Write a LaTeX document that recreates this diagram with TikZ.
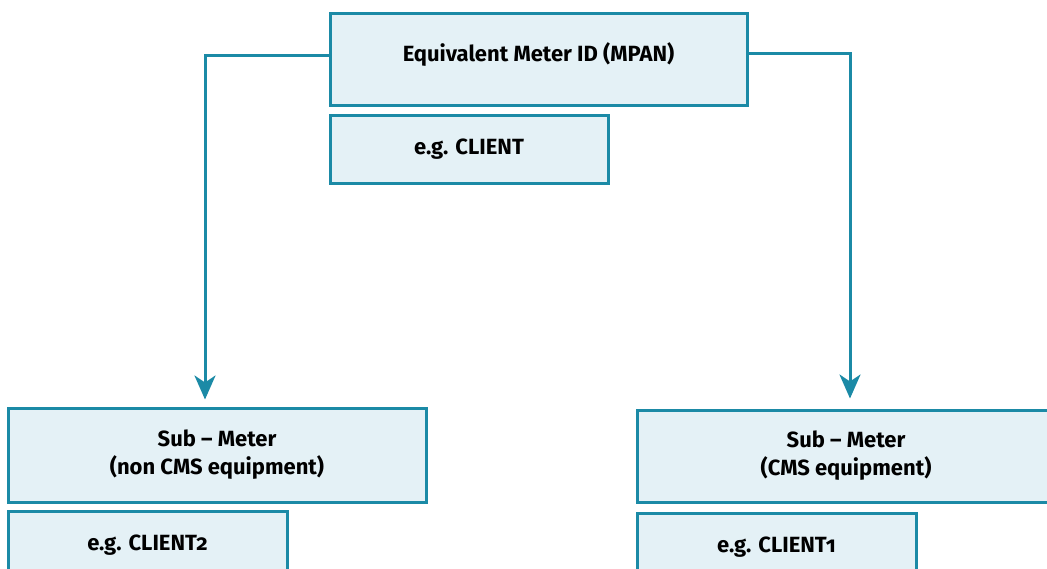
\documentclass[tikz,border=0pt]{standalone}
\usepackage{fontspec}
\setmainfont{Fira Sans}[Numbers=OldStyle]
\usepackage{xcolor}
\definecolor{colorBorder}{HTML}{1B8AA6}
\definecolor{colorFill}{HTML}{E4F1F6}
\usepackage{tikz}
\usetikzlibrary{arrows.meta, positioning}
\tikzset{meter/.style={draw=colorBorder, fill=colorFill, line width=3pt, align=center, font=\bfseries\fontsize{22}{28}\selectfont, inner sep=0pt}}

\begin{document}
\begin{tikzpicture}[x=1pt, y=1pt, >={Stealth[length=24pt, width=21pt, inset=7pt]}, line width=3pt]
\useasboundingbox (0,0) rectangle (1047,-568);
\node[meter, minimum width=417pt, minimum height=92pt, text depth=13pt] (mpan) at (538.5,-59) {Equivalent Meter ID (MPAN)};
\node[meter, minimum width=278pt, minimum height=68pt, below=7pt of mpan.south west, anchor=north west] (mpanEx) {e.g. CLIENT};
\node[meter, minimum width=418pt, minimum height=94pt] (subNon) at (217,-455) {Sub -- Meter\\(non CMS equipment)};
\node[meter, minimum width=279pt, minimum height=68pt, below=6pt of subNon.south west, anchor=north west] (subNonEx) {e.g. CLIENT2};
\node[meter, minimum width=418pt, minimum height=92pt] (subCms) at (846,-456) {Sub -- Meter\\(CMS equipment)};
\node[meter, minimum width=279pt, minimum height=68pt, below=8pt of subCms.south west, anchor=north west] (subCmsEx) {e.g. CLIENT1};
\draw [->, colorBorder, shorten >=7pt] ([yshift=4pt]mpan.west) -| ([xshift=-12pt]subNon.north);
\draw [->, colorBorder, shorten >=10pt] ([yshift=6pt]mpan.east) -| ([xshift=4pt]subCms.north);
\end{tikzpicture}
\end{document}
